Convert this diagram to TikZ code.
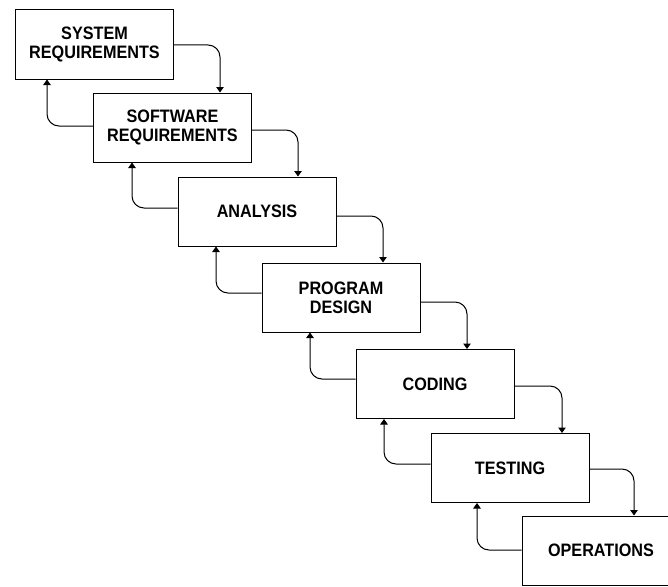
\documentclass[tikz,border=0pt]{standalone}
\usepackage{fontspec}
\newfontfamily\phasefont[FakeStretch=0.9]{Liberation Sans}
\usetikzlibrary{arrows.meta}

\tikzset{
    phase/.style={draw,line width=1pt,minimum width=158pt,minimum height=69pt,inner sep=0pt,
        align=center,font=\phasefont\bfseries\fontsize{18}{19}\selectfont},
    flow/.style={->,line width=1pt,rounded corners=12pt}
}

\begin{document}
\begin{tikzpicture}[x=1pt,y=-1pt,>={Triangle[length=5.5pt,width=7.5pt]}]

    \useasboundingbox (0,0) rectangle (668,586);
    \clip (0,0) rectangle (668,586);

    % the phases, top left to bottom right
    \node[phase] (sysreq) at (94.5,44.5) {SYSTEM\\REQUIREMENTS};
    \node[phase] (swreq) at (172.5,127.5) {SOFTWARE\\REQUIREMENTS};
    \node[phase] (analysis) at (257,211.5) {ANALYSIS};
    \node[phase] (progdesign) at (341,297.5) {PROGRAM\\DESIGN};
    \node[phase] (coding) at (435,384) {CODING};
    \node[phase] (testing) at (510,468) {TESTING};
    \node[phase] (operations) at (601,550.5) {OPERATIONS};

    % going down
    \draw[flow] ([yshift=-0.5pt]sysreq.east) -| ([xshift=47.5pt]swreq.north);
    \draw[flow] ([yshift=-2.5pt]swreq.east) -| ([xshift=41pt]analysis.north);
    \draw[flow] ([yshift=-4.5pt]analysis.east) -| ([xshift=42pt]progdesign.north);
    \draw[flow] ([yshift=-4.5pt]progdesign.east) -| ([xshift=32pt]coding.north);
    \draw[flow] ([yshift=-2pt]coding.east) -| ([xshift=52pt]testing.north);
    \draw[flow] ([yshift=-1pt]testing.east) -| ([xshift=33pt]operations.north);

    % going back up
    \draw[flow] ([yshift=1.5pt]swreq.west) -| ([xshift=-47.5pt]sysreq.south);
    \draw[flow] ([yshift=3.5pt]analysis.west) -| ([xshift=-40.5pt]swreq.south);
    \draw[flow] ([yshift=4.5pt]progdesign.west) -| ([xshift=-41pt]analysis.south);
    \draw[flow] ([yshift=5pt]coding.west) -| ([xshift=-31pt]progdesign.south);
    \draw[flow] ([yshift=4pt]testing.west) -| ([xshift=-51pt]coding.south);
    \draw[flow] ([yshift=0.5pt]operations.west) -| ([xshift=-33pt]testing.south);

\end{tikzpicture}
\end{document}
